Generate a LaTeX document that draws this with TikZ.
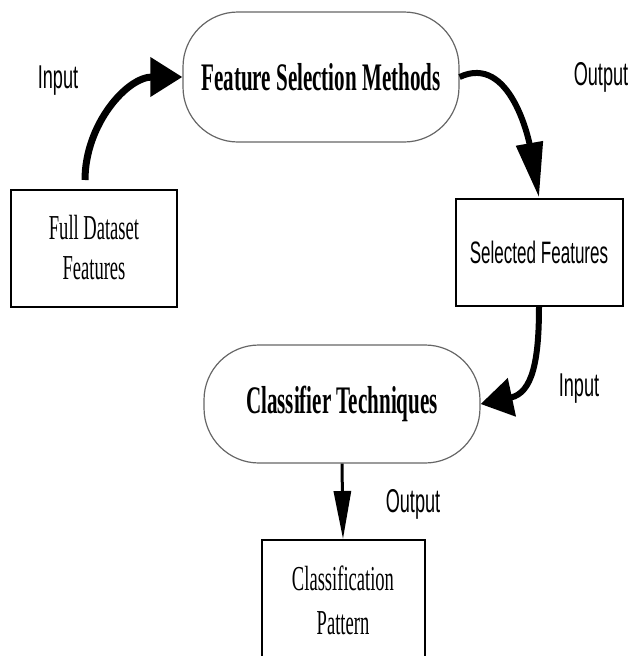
\documentclass[tikz,border=0pt]{standalone}
\usepackage{fontspec}
\usetikzlibrary{arrows.meta,positioning}
\newfontfamily\serifcond{Liberation Serif}[FakeStretch=0.53]
\newfontfamily\titlecond{Liberation Serif}[FakeStretch=0.54]
\newfontfamily\sanscond{Liberation Sans}[FakeStretch=0.55]
\begin{document}
\begin{tikzpicture}[x=1pt, y=1pt,
  term/.style = {draw=black!60, line width=1.2pt, rounded corners=55pt,
    minimum width=276pt, inner sep=0pt,
    font=\titlecond\bfseries\fontsize{39}{44}\selectfont},
  box/.style = {draw, line width=2pt, inner sep=0pt, align=center},
  lbl/.style = {anchor=base, font=\sanscond\fontsize{33}{36}\selectfont},
  bigarrow/.style = {line width=7pt, -{Triangle[length=32pt, width=38pt]}},
  longarrow/.style = {line width=6pt, -{Triangle[length=55pt, width=26pt]}}]
  \useasboundingbox (0,0) rectangle (630,-656);
  \node[term, minimum height=130pt] (fsm) at (321,-77) {Feature Selection Methods};
  \node[box, minimum width=166pt, minimum height=117pt,
    font=\serifcond\fontsize{35}{40}\selectfont] (full) at (94,-248) {Full Dataset\\Features};
  \node[box, minimum width=167pt, minimum height=107pt,
    font=\sanscond\fontsize{31}{36}\selectfont] (sel) at (539,-252) {Selected Features};
  \node[term, minimum height=118pt] (cls) at (342,-404) {Classifier Techniques};
  \node[box, minimum width=163pt, minimum height=120pt,
    font=\serifcond\fontsize{35}{44}\selectfont] (pat) at (343,-600) {Classification\\Pattern};
  % labels
  \node[lbl] (in1) at (58,-88) {Input};
  \node[lbl] (out1) at (601,-85) {Output};
  \node[lbl] (in2) at (579,-396) {Input};
  \node[lbl] (out2) at (413,-512) {Output};
  % connectors
  \coordinate (full top) at (85,-180);
  \draw[bigarrow] (full top) to[out=90, in=180] (fsm.west);
  \draw[longarrow] (fsm.east) to[out=25, in=100] (sel.north);
  \draw[bigarrow, line width=6pt] (sel.south) to[out=-90, in=12, looseness=1.2] (cls.east);
  \draw[line width=3pt, -{Triangle[length=48pt, width=17pt]}] (cls.south) -- (pat.north);
\end{tikzpicture}
\end{document}
